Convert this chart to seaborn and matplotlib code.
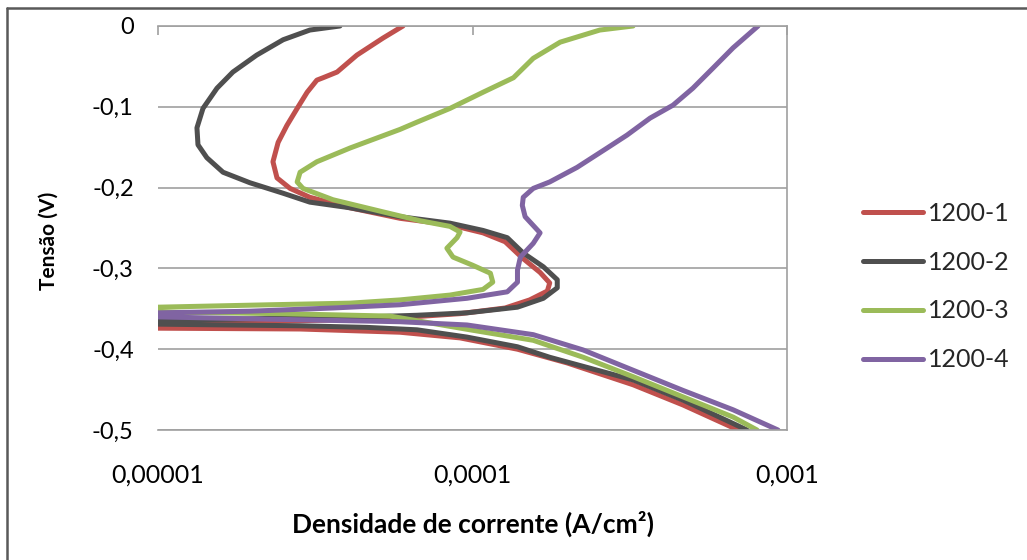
import numpy as np
import pandas as pd
import matplotlib
matplotlib.use("Agg")
import matplotlib.pyplot as plt
from matplotlib.lines import Line2D
from matplotlib.ticker import FixedLocator, FixedFormatter, NullLocator
import seaborn as sns

# ---------------- data ----------------
series_names = ["1200-1", "1200-2", "1200-3", "1200-4"]

# 1200-1 (current density A/cm2, potential V)
i_1200_1 = [6.01e-5, 5.19e-5, 4.29e-5, 3.71e-5, 3.35e-5, 3.20e-5, 2.98e-5, 2.77e-5, 2.57e-5, 2.41e-5,
            2.32e-5, 2.39e-5, 2.63e-5, 3.04e-5, 4.08e-5, 5.88e-5, 8.48e-5, 1.08e-4, 1.27e-4, 1.44e-4,
            1.64e-4, 1.76e-4, 1.73e-4, 1.52e-4, 1.27e-4, 9.13e-5, 5.88e-5, 3.52e-5, 1.82e-5, 1.0e-5,
            2.0e-6, 1.0e-5, 2.83e-5, 5.88e-5, 9.13e-5, 1.39e-4, 2.00e-4, 3.24e-4, 4.67e-4, 6.99e-4]
v_1200_1 = [0, -0.015, -0.036, -0.057, -0.064, -0.067, -0.082, -0.102, -0.123, -0.144,
            -0.168, -0.188, -0.201, -0.212, -0.225, -0.238, -0.246, -0.256, -0.267, -0.287,
            -0.305, -0.318, -0.328, -0.339, -0.349, -0.356, -0.361, -0.364, -0.366, -0.368,
            -0.371, -0.374, -0.375, -0.379, -0.386, -0.400, -0.417, -0.444, -0.469, -0.5]

# 1200-2
i_1200_2 = [3.79e-5, 3.04e-5, 2.50e-5, 2.06e-5, 1.73e-5, 1.54e-5, 1.39e-5, 1.33e-5, 1.34e-5, 1.43e-5,
            1.61e-5, 1.96e-5, 2.50e-5, 3.04e-5, 4.08e-5, 5.88e-5, 8.48e-5, 1.08e-4, 1.29e-4, 1.45e-4,
            1.68e-4, 1.86e-4, 1.86e-4, 1.68e-4, 1.39e-4, 9.60e-5, 6.66e-5, 4.62e-5, 2.83e-5, 1.69e-5,
            1.0e-5, 2.0e-6, 1.0e-5, 2.83e-5, 4.62e-5, 6.66e-5, 9.60e-5, 1.39e-4, 1.76e-4, 3.24e-4,
            4.67e-4, 7.46e-4]
v_1200_2 = [0, -0.005, -0.017, -0.036, -0.057, -0.077, -0.102, -0.126, -0.147, -0.163,
            -0.181, -0.194, -0.207, -0.218, -0.225, -0.236, -0.244, -0.253, -0.262, -0.281,
            -0.298, -0.314, -0.324, -0.337, -0.348, -0.355, -0.358, -0.360, -0.361, -0.363,
            -0.364, -0.366, -0.369, -0.371, -0.373, -0.376, -0.385, -0.397, -0.410, -0.438,
            -0.463, -0.5]

# 1200-3
i_1200_3 = [3.24e-4, 2.54e-4, 1.90e-4, 1.56e-4, 1.35e-4, 1.08e-4, 8.48e-5, 6.66e-5, 5.88e-5, 4.08e-5,
            3.20e-5, 2.83e-5, 2.77e-5, 2.89e-5, 3.60e-5, 5.19e-5, 6.81e-5, 8.48e-5, 9.13e-5, 8.93e-5,
            8.29e-5, 8.67e-5, 1.00e-4, 1.14e-4, 1.16e-4, 1.08e-4, 8.48e-5, 5.88e-5, 4.08e-5, 2.27e-5,
            1.0e-5, 2.0e-6, 1.0e-5, 2.44e-5, 5.47e-5, 9.82e-5, 1.56e-4, 2.25e-4, 3.24e-4, 4.67e-4,
            6.74e-4, 8.03e-4]
v_1200_3 = [0, -0.005, -0.020, -0.040, -0.064, -0.082, -0.102, -0.119, -0.128, -0.151,
            -0.168, -0.181, -0.193, -0.201, -0.215, -0.230, -0.241, -0.248, -0.255, -0.262,
            -0.275, -0.286, -0.296, -0.306, -0.317, -0.326, -0.333, -0.339, -0.343, -0.345,
            -0.348, -0.351, -0.354, -0.356, -0.359, -0.376, -0.389, -0.410, -0.434, -0.459,
            -0.484, -0.5]

# 1200-4
i_1200_4 = [8.09e-4, 6.74e-4, 5.82e-4, 5.02e-4, 4.34e-4, 3.67e-4, 3.10e-4, 2.68e-4, 2.15e-4, 1.76e-4,
            1.56e-4, 1.45e-4, 1.44e-4, 1.47e-4, 1.64e-4, 1.56e-4, 1.42e-4, 1.39e-4, 1.39e-4, 1.29e-4,
            9.60e-5, 5.88e-5, 3.60e-5, 1.96e-5, 1.0e-5, 2.0e-6, 1.0e-5, 3.18e-5, 5.88e-5, 9.60e-5,
            1.56e-4, 2.25e-4, 3.24e-4, 4.67e-4, 6.74e-4, 9.36e-4]
v_1200_4 = [0, -0.027, -0.052, -0.077, -0.098, -0.114, -0.135, -0.151, -0.175, -0.193,
            -0.201, -0.212, -0.222, -0.236, -0.256, -0.269, -0.286, -0.302, -0.317, -0.329,
            -0.337, -0.345, -0.349, -0.353, -0.355, -0.358, -0.360, -0.364, -0.366, -0.370,
            -0.382, -0.401, -0.426, -0.451, -0.475, -0.5]

x_ticks = [1e-5, 1e-4, 1e-3]
x_tick_labels = ["0,00001", "0,0001", "0,001"]
y_ticks = [0, -0.1, -0.2, -0.3, -0.4, -0.5]
y_tick_labels = ["0", "-0,1", "-0,2", "-0,3", "-0,4", "-0,5"]
x_title = "Densidade de corrente (A/cm²)"
y_title = "Tensão (V)"

colors = ["#C0504D", "#4F4F4F", "#9BBB59", "#8064A2"]

# ---------------- build table ----------------
frames = []
for name, ii, vv in zip(series_names,
                        [i_1200_1, i_1200_2, i_1200_3, i_1200_4],
                        [v_1200_1, v_1200_2, v_1200_3, v_1200_4]):
    frames.append(pd.DataFrame({"I": ii, "V": vv, "serie": name,
                                "order": np.arange(len(ii))}))
df = pd.concat(frames, ignore_index=True)

# ---------------- plot ----------------
sns.set_style("white")
plt.rcParams["font.family"] = ["Lato", "DejaVu Sans"]

W, H = 1027, 560
fig = plt.figure(figsize=(W / 100, H / 100), dpi=100)
L, R, T, B = 158, 787, 26, 430
ax = fig.add_axes([L / W, 1 - B / H, (R - L) / W, (B - T) / H])

sns.lineplot(data=df, x="I", y="V", hue="serie", hue_order=series_names,
             palette=colors, sort=False, estimator=None, linewidth=3.6,
             ax=ax)

ax.set_xscale("log")
ax.set_xlim(1e-5, 1e-3)
ax.set_ylim(-0.5, 0)

ax.xaxis.set_major_locator(FixedLocator(x_ticks))
ax.xaxis.set_major_formatter(FixedFormatter(x_tick_labels))
ax.xaxis.set_minor_locator(NullLocator())
ax.yaxis.set_major_locator(FixedLocator(y_ticks))
ax.yaxis.set_major_formatter(FixedFormatter(y_tick_labels))

grid_c = "#A0A0A0"
ax.grid(axis="y", color=grid_c, linewidth=1.2)
ax.grid(axis="x", visible=False)
ax.set_axisbelow(True)

for side in ["top", "right", "bottom"]:
    ax.spines[side].set_visible(True)
    ax.spines[side].set_color(grid_c)
    ax.spines[side].set_linewidth(1.2)
ax.spines["left"].set_visible(False)

ax.tick_params(axis="x", which="major", top=True, bottom=False,
               labeltop=False, labelbottom=True, direction="in",
               length=6.5, width=1.2, color=grid_c, pad=24,
               labelsize=18, labelcolor="#000000")
ax.tick_params(axis="y", which="major", left=False, right=False,
               pad=14, labelsize=17, labelcolor="#000000")

ax.set_xlabel(x_title, fontsize=19, fontweight="bold", color="#000000")
ax.set_ylabel(y_title, fontsize=15, fontweight="bold", color="#000000")
ax.xaxis.set_label_coords(0.5, (B - 524) / (B - T))
ax.xaxis.label.set_va("center")
ax.yaxis.set_label_coords((49 - L) / (R - L), (B - 241) / (B - T))
ax.yaxis.label.set_va("center")

handles, labels = ax.get_legend_handles_labels()
if ax.get_legend() is not None:
    ax.get_legend().remove()
leg = ax.legend(handles, labels, loc="upper left",
                bbox_to_anchor=(863 / W, 1 - 202 / H),
                bbox_transform=fig.transFigure, frameon=False,
                borderpad=0, borderaxespad=0, handlelength=2.4,
                handletextpad=0.2, labelspacing=1.03, fontsize=18)
for lh in leg.get_lines():
    lh.set_linewidth(3.6)

# figure border (top and left edges of the chart area)
border_c = "#595959"
fig.add_artist(Line2D([7 / W, 1], [1 - 8 / H, 1 - 8 / H], transform=fig.transFigure,
                      color=border_c, linewidth=1.8))
fig.add_artist(Line2D([7 / W, 7 / W], [0, 1 - 8 / H], transform=fig.transFigure,
                      color=border_c, linewidth=1.8))

fig.savefig("out.png", dpi=100, facecolor="white")
